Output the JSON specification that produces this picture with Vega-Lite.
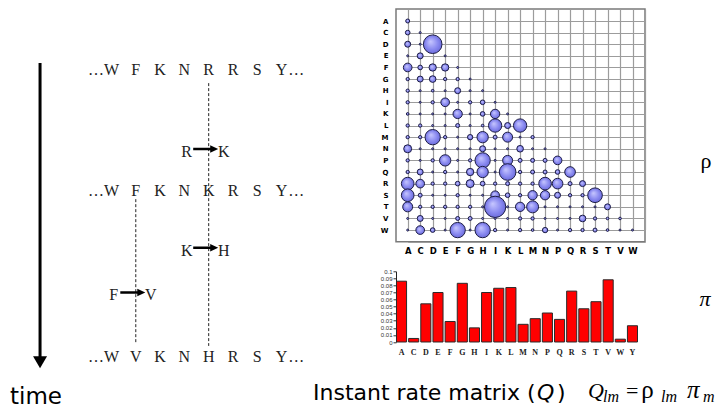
{
  "$schema": "https://vega.github.io/schema/vega-lite/v6.json",
  "padding": {"left": 0, "top": 8, "right": 0, "bottom": 0},
  "background": "white",
  "bounds": "flush",
  "spacing": 16,
  "config": {"view": {"stroke": null}},
  "hconcat": [
    {
      "width": 380,
      "height": 401,
      "layer": [
        {
          "data": {"values": [{"start": -0.17, "end": 7.12}]},
          "mark": {"type": "rule", "color": "black", "strokeWidth": 3},
          "encoding": {
            "x": {"datum": -2.94, "type": "quantitative", "scale": {"domain": [-4.588, 11.049], "nice": false, "zero": false}, "axis": null},
            "y": {"field": "start", "type": "quantitative", "scale": {"domain": [-1.488, 8.293], "nice": false, "zero": false, "reverse": true}, "axis": null},
            "y2": {"field": "end"}
          }
        },
        {
          "data": {"values": [{"start": -0.17, "end": 7.12}]},
          "mark": {"type": "point", "shape": "M -1 -0.8 L 1 -0.8 L 0 0.9 Z", "size": 196, "filled": true, "color": "black", "opacity": 1},
          "encoding": {
            "x": {"datum": -2.94, "type": "quantitative", "scale": {"domain": [-4.588, 11.049], "nice": false, "zero": false}, "axis": null},
            "y": {"field": "end", "type": "quantitative", "scale": {"domain": [-1.488, 8.293], "nice": false, "zero": false, "reverse": true}, "axis": null}
          }
        },
        {
          "data": {"values": [
            {"site": 4, "start": 0.32, "end": 6.73},
            {"site": 1, "start": 3.15, "end": 6.66}
          ]},
          "mark": {"type": "rule", "color": "#222", "strokeWidth": 1, "strokeDash": [3, 2]},
          "encoding": {
            "x": {"field": "site", "type": "quantitative", "scale": {"domain": [-4.588, 11.049], "nice": false, "zero": false}, "axis": null},
            "y": {"field": "start", "type": "quantitative", "scale": {"domain": [-1.488, 8.293], "nice": false, "zero": false, "reverse": true}, "axis": null},
            "y2": {"field": "end"}
          }
        },
        {
          "data": {"values": [
            {"t": 0, "col": -0.64, "aa": "…"}, {"t": 0, "col": 0, "aa": "W"}, {"t": 0, "col": 1, "aa": "F"}, {"t": 0, "col": 2, "aa": "K"}, {"t": 0, "col": 3, "aa": "N"}, {"t": 0, "col": 4, "aa": "R"}, {"t": 0, "col": 5, "aa": "R"}, {"t": 0, "col": 6, "aa": "S"}, {"t": 0, "col": 7, "aa": "Y"}, {"t": 0, "col": 7.6, "aa": "…"},
            {"t": 2.95, "col": -0.64, "aa": "…"}, {"t": 2.95, "col": 0, "aa": "W"}, {"t": 2.95, "col": 1, "aa": "F"}, {"t": 2.95, "col": 2, "aa": "K"}, {"t": 2.95, "col": 3, "aa": "N"}, {"t": 2.95, "col": 4, "aa": "K"}, {"t": 2.95, "col": 5, "aa": "R"}, {"t": 2.95, "col": 6, "aa": "S"}, {"t": 2.95, "col": 7, "aa": "Y"}, {"t": 2.95, "col": 7.6, "aa": "…"},
            {"t": 7, "col": -0.64, "aa": "…"}, {"t": 7, "col": 0, "aa": "W"}, {"t": 7, "col": 1, "aa": "V"}, {"t": 7, "col": 2, "aa": "K"}, {"t": 7, "col": 3, "aa": "N"}, {"t": 7, "col": 4, "aa": "H"}, {"t": 7, "col": 5, "aa": "R"}, {"t": 7, "col": 6, "aa": "S"}, {"t": 7, "col": 7, "aa": "Y"}, {"t": 7, "col": 7.6, "aa": "…"}
          ]},
          "mark": {"type": "text", "font": "Liberation Serif", "fontSize": 16, "color": "#222", "align": "center", "baseline": "middle"},
          "encoding": {
            "x": {"field": "col", "type": "quantitative", "scale": {"domain": [-4.588, 11.049], "nice": false, "zero": false}, "axis": null},
            "y": {"field": "t", "type": "quantitative", "scale": {"domain": [-1.488, 8.293], "nice": false, "zero": false, "reverse": true}, "axis": null},
            "text": {"field": "aa"}
          }
        },
        {
          "data": {"name": "mutations", "values": [
            {"site": 4, "t": 2, "from": "R", "to": "K"},
            {"site": 4, "t": 4.41, "from": "K", "to": "H"},
            {"site": 1, "t": 5.5, "from": "F", "to": "V"}
          ]},
          "layer": [
            {
              "mark": {"type": "text", "font": "Liberation Serif", "fontSize": 16, "color": "#222", "align": "center", "baseline": "middle", "dx": -22},
              "encoding": {
                "x": {"field": "site", "type": "quantitative", "scale": {"domain": [-4.588, 11.049], "nice": false, "zero": false}, "axis": null},
                "y": {"field": "t", "type": "quantitative", "scale": {"domain": [-1.488, 8.293], "nice": false, "zero": false, "reverse": true}, "axis": null},
                "text": {"field": "from"}
              }
            },
            {
              "mark": {"type": "text", "font": "Liberation Serif", "fontSize": 16, "color": "#222", "align": "center", "baseline": "middle", "dx": 15},
              "encoding": {
                "x": {"field": "site", "type": "quantitative", "scale": {"domain": [-4.588, 11.049], "nice": false, "zero": false}, "axis": null},
                "y": {"field": "t", "type": "quantitative", "scale": {"domain": [-1.488, 8.293], "nice": false, "zero": false, "reverse": true}, "axis": null},
                "text": {"field": "to"}
              }
            },
            {
              "mark": {"type": "point", "shape": "M -1 -0.1 L 0.36 -0.1 L 0.36 -0.3 L 1 0 L 0.36 0.3 L 0.36 0.1 L -1 0.1 Z", "size": 625, "filled": true, "color": "black", "opacity": 1, "xOffset": -3, "yOffset": -3},
              "encoding": {
                "x": {"field": "site", "type": "quantitative", "scale": {"domain": [-4.588, 11.049], "nice": false, "zero": false}, "axis": null},
                "y": {"field": "t", "type": "quantitative", "scale": {"domain": [-1.488, 8.293], "nice": false, "zero": false, "reverse": true}, "axis": null}
              }
            }
          ]
        },
        {
          "data": {"values": [{"label": "time"}]},
          "mark": {"type": "text", "font": "DejaVu Sans", "fontSize": 23, "color": "black", "align": "left", "baseline": "alphabetic"},
          "encoding": {
            "x": {"datum": -4.177, "type": "quantitative"},
            "y": {"datum": 8.146, "type": "quantitative"},
            "text": {"field": "label"}
          }
        },
        {
          "data": {"values": [{}]},
          "layer": [
            {
              "mark": {"type": "text", "font": "DejaVu Sans", "fontSize": 22, "color": "black", "align": "left", "baseline": "alphabetic"},
              "encoding": {"x": {"datum": 8.292, "type": "quantitative"}, "y": {"datum": 8.05, "type": "quantitative"}, "text": {"value": "Instant rate matrix ("}}
            },
            {
              "mark": {"type": "text", "font": "DejaVu Sans", "fontStyle": "italic", "fontSize": 22, "color": "black", "align": "left", "baseline": "alphabetic"},
              "encoding": {"x": {"datum": 17.51, "type": "quantitative"}, "y": {"datum": 8.05, "type": "quantitative"}, "text": {"value": "Q"}}
            },
            {
              "mark": {"type": "text", "font": "DejaVu Sans", "fontSize": 22, "color": "black", "align": "left", "baseline": "alphabetic"},
              "encoding": {"x": {"datum": 18.33, "type": "quantitative"}, "y": {"datum": 8.05, "type": "quantitative"}, "text": {"value": ")"}}
            },
            {
              "mark": {"type": "text", "font": "Liberation Serif", "fontStyle": "italic", "fontSize": 22, "color": "black", "align": "left", "baseline": "alphabetic"},
              "encoding": {"x": {"datum": 19.61, "type": "quantitative"}, "y": {"datum": 8.0, "type": "quantitative"}, "text": {"value": "Q"}}
            },
            {
              "mark": {"type": "text", "font": "Liberation Serif", "fontStyle": "italic", "fontSize": 16, "color": "black", "align": "left", "baseline": "alphabetic"},
              "encoding": {"x": {"datum": 20.23, "type": "quantitative"}, "y": {"datum": 8.1, "type": "quantitative"}, "text": {"value": "lm"}}
            },
            {
              "mark": {"type": "text", "font": "Liberation Serif", "fontSize": 22, "color": "black", "align": "left", "baseline": "alphabetic"},
              "encoding": {"x": {"datum": 21.17, "type": "quantitative"}, "y": {"datum": 8.0, "type": "quantitative"}, "text": {"value": "="}}
            },
            {
              "mark": {"type": "text", "font": "Liberation Serif", "fontSize": 25, "color": "black", "align": "left", "baseline": "alphabetic"},
              "encoding": {"x": {"datum": 21.8, "type": "quantitative"}, "y": {"datum": 8.0, "type": "quantitative"}, "text": {"value": "ρ"}}
            },
            {
              "mark": {"type": "text", "font": "Liberation Serif", "fontStyle": "italic", "fontSize": 16, "color": "black", "align": "left", "baseline": "alphabetic"},
              "encoding": {"x": {"datum": 22.61, "type": "quantitative"}, "y": {"datum": 8.1, "type": "quantitative"}, "text": {"value": "lm"}}
            },
            {
              "mark": {"type": "text", "font": "Liberation Serif", "fontStyle": "italic", "fontSize": 25, "color": "black", "align": "left", "baseline": "alphabetic"},
              "encoding": {"x": {"datum": 23.68, "type": "quantitative"}, "y": {"datum": 8.0, "type": "quantitative"}, "text": {"value": "π"}}
            },
            {
              "mark": {"type": "text", "font": "Liberation Serif", "fontStyle": "italic", "fontSize": 16, "color": "black", "align": "left", "baseline": "alphabetic"},
              "encoding": {"x": {"datum": 24.34, "type": "quantitative"}, "y": {"datum": 8.1, "type": "quantitative"}, "text": {"value": "m"}}
            }
          ]
        }
      ]
    },
    {
      "bounds": "flush",
      "spacing": 29.3,
      "vconcat": [
        {
          "width": 249,
          "height": 232.7,
          "view": {"stroke": "#7a7a7a", "strokeWidth": 1.5},
          "title": {"text": "ρ", "orient": "right", "angle": 0, "anchor": "middle", "align": "center", "baseline": "middle", "offset": 50, "dy": 36, "font": "Liberation Serif", "fontSize": 22, "fontWeight": "normal", "color": "black"},
          "data": {"values": [
            {"row": "A", "col": "A", "rho": 0.36},
            {"row": "C", "col": "A", "rho": 0.49}, {"row": "C", "col": "C", "rho": 0.09},
            {"row": "D", "col": "A", "rho": 0.81}, {"row": "D", "col": "C", "rho": 0.09}, {"row": "D", "col": "D", "rho": 7.84},
            {"row": "E", "col": "A", "rho": 0.09}, {"row": "E", "col": "C", "rho": 0.81}, {"row": "E", "col": "E", "rho": 0.09},
            {"row": "F", "col": "A", "rho": 1.69}, {"row": "F", "col": "C", "rho": 0.49}, {"row": "F", "col": "D", "rho": 1.21}, {"row": "F", "col": "E", "rho": 1.21}, {"row": "F", "col": "F", "rho": 0.09},
            {"row": "G", "col": "A", "rho": 0.25}, {"row": "G", "col": "C", "rho": 0.81}, {"row": "G", "col": "D", "rho": 1.0}, {"row": "G", "col": "E", "rho": 0.25}, {"row": "G", "col": "F", "rho": 0.25}, {"row": "G", "col": "G", "rho": 0.09},
            {"row": "H", "col": "A", "rho": 0.25}, {"row": "H", "col": "C", "rho": 0.09}, {"row": "H", "col": "D", "rho": 0.16}, {"row": "H", "col": "E", "rho": 0.09}, {"row": "H", "col": "F", "rho": 0.81}, {"row": "H", "col": "G", "rho": 0.09}, {"row": "H", "col": "H", "rho": 0.09},
            {"row": "I", "col": "A", "rho": 0.25}, {"row": "I", "col": "C", "rho": 0.09}, {"row": "I", "col": "D", "rho": 0.25}, {"row": "I", "col": "E", "rho": 1.69}, {"row": "I", "col": "F", "rho": 0.09}, {"row": "I", "col": "G", "rho": 0.25}, {"row": "I", "col": "H", "rho": 0.49}, {"row": "I", "col": "I", "rho": 0.09},
            {"row": "K", "col": "A", "rho": 0.16}, {"row": "K", "col": "C", "rho": 0.09}, {"row": "K", "col": "D", "rho": 0.09}, {"row": "K", "col": "E", "rho": 0.09}, {"row": "K", "col": "F", "rho": 1.96}, {"row": "K", "col": "G", "rho": 0.09}, {"row": "K", "col": "H", "rho": 0.49}, {"row": "K", "col": "I", "rho": 1.96}, {"row": "K", "col": "K", "rho": 0.09},
            {"row": "L", "col": "A", "rho": 0.25}, {"row": "L", "col": "C", "rho": 0.25}, {"row": "L", "col": "D", "rho": 0.09}, {"row": "L", "col": "E", "rho": 0.09}, {"row": "L", "col": "F", "rho": 0.36}, {"row": "L", "col": "G", "rho": 0.09}, {"row": "L", "col": "H", "rho": 0.16}, {"row": "L", "col": "I", "rho": 4.0}, {"row": "L", "col": "K", "rho": 0.81}, {"row": "L", "col": "L", "rho": 4.0},
            {"row": "M", "col": "A", "rho": 0.25}, {"row": "M", "col": "C", "rho": 0.25}, {"row": "M", "col": "D", "rho": 5.29}, {"row": "M", "col": "E", "rho": 0.25}, {"row": "M", "col": "F", "rho": 0.09}, {"row": "M", "col": "G", "rho": 0.64}, {"row": "M", "col": "H", "rho": 2.89}, {"row": "M", "col": "I", "rho": 0.36}, {"row": "M", "col": "K", "rho": 2.25}, {"row": "M", "col": "L", "rho": 0.09}, {"row": "M", "col": "M", "rho": 0.25},
            {"row": "N", "col": "A", "rho": 1.44}, {"row": "N", "col": "C", "rho": 0.09}, {"row": "N", "col": "D", "rho": 0.09}, {"row": "N", "col": "E", "rho": 0.09}, {"row": "N", "col": "F", "rho": 0.09}, {"row": "N", "col": "G", "rho": 0.09}, {"row": "N", "col": "H", "rho": 0.81}, {"row": "N", "col": "I", "rho": 0.09}, {"row": "N", "col": "K", "rho": 0.09}, {"row": "N", "col": "L", "rho": 1.0}, {"row": "N", "col": "M", "rho": 0.09}, {"row": "N", "col": "N", "rho": 0.09},
            {"row": "P", "col": "A", "rho": 0.25}, {"row": "P", "col": "C", "rho": 0.09}, {"row": "P", "col": "D", "rho": 0.25}, {"row": "P", "col": "E", "rho": 2.89}, {"row": "P", "col": "F", "rho": 0.09}, {"row": "P", "col": "G", "rho": 0.25}, {"row": "P", "col": "H", "rho": 5.29}, {"row": "P", "col": "I", "rho": 0.09}, {"row": "P", "col": "K", "rho": 2.25}, {"row": "P", "col": "L", "rho": 0.36}, {"row": "P", "col": "M", "rho": 0.36}, {"row": "P", "col": "N", "rho": 0.36}, {"row": "P", "col": "P", "rho": 1.69},
            {"row": "Q", "col": "A", "rho": 0.25}, {"row": "Q", "col": "C", "rho": 0.81}, {"row": "Q", "col": "D", "rho": 0.09}, {"row": "Q", "col": "E", "rho": 0.25}, {"row": "Q", "col": "F", "rho": 0.09}, {"row": "Q", "col": "G", "rho": 1.21}, {"row": "Q", "col": "H", "rho": 2.89}, {"row": "Q", "col": "I", "rho": 0.09}, {"row": "Q", "col": "K", "rho": 6.25}, {"row": "Q", "col": "L", "rho": 0.25}, {"row": "Q", "col": "M", "rho": 0.36}, {"row": "Q", "col": "N", "rho": 0.36}, {"row": "Q", "col": "P", "rho": 0.49}, {"row": "Q", "col": "Q", "rho": 2.56},
            {"row": "R", "col": "A", "rho": 3.61}, {"row": "R", "col": "C", "rho": 1.69}, {"row": "R", "col": "D", "rho": 0.25}, {"row": "R", "col": "E", "rho": 0.25}, {"row": "R", "col": "F", "rho": 0.49}, {"row": "R", "col": "G", "rho": 1.44}, {"row": "R", "col": "H", "rho": 0.49}, {"row": "R", "col": "I", "rho": 0.25}, {"row": "R", "col": "K", "rho": 0.36}, {"row": "R", "col": "L", "rho": 0.25}, {"row": "R", "col": "M", "rho": 0.25}, {"row": "R", "col": "N", "rho": 3.61}, {"row": "R", "col": "P", "rho": 2.56}, {"row": "R", "col": "Q", "rho": 0.36}, {"row": "R", "col": "R", "rho": 0.81},
            {"row": "S", "col": "A", "rho": 3.61}, {"row": "S", "col": "C", "rho": 0.36}, {"row": "S", "col": "D", "rho": 0.09}, {"row": "S", "col": "E", "rho": 0.09}, {"row": "S", "col": "F", "rho": 0.25}, {"row": "S", "col": "G", "rho": 0.09}, {"row": "S", "col": "H", "rho": 0.09}, {"row": "S", "col": "I", "rho": 1.69}, {"row": "S", "col": "K", "rho": 0.49}, {"row": "S", "col": "L", "rho": 0.25}, {"row": "S", "col": "M", "rho": 1.96}, {"row": "S", "col": "N", "rho": 1.96}, {"row": "S", "col": "P", "rho": 0.81}, {"row": "S", "col": "Q", "rho": 0.25}, {"row": "S", "col": "R", "rho": 0.25}, {"row": "S", "col": "S", "rho": 4.84},
            {"row": "T", "col": "A", "rho": 2.25}, {"row": "T", "col": "C", "rho": 0.25}, {"row": "T", "col": "D", "rho": 0.25}, {"row": "T", "col": "E", "rho": 0.25}, {"row": "T", "col": "F", "rho": 0.25}, {"row": "T", "col": "G", "rho": 0.25}, {"row": "T", "col": "H", "rho": 0.09}, {"row": "T", "col": "I", "rho": 10.24}, {"row": "T", "col": "K", "rho": 0.09}, {"row": "T", "col": "L", "rho": 1.96}, {"row": "T", "col": "M", "rho": 3.24}, {"row": "T", "col": "N", "rho": 0.09}, {"row": "T", "col": "P", "rho": 0.09}, {"row": "T", "col": "Q", "rho": 0.09}, {"row": "T", "col": "R", "rho": 0.09}, {"row": "T", "col": "S", "rho": 0.09}, {"row": "T", "col": "T", "rho": 0.81},
            {"row": "V", "col": "A", "rho": 0.09}, {"row": "V", "col": "C", "rho": 0.81}, {"row": "V", "col": "D", "rho": 0.09}, {"row": "V", "col": "E", "rho": 0.09}, {"row": "V", "col": "F", "rho": 0.36}, {"row": "V", "col": "G", "rho": 0.36}, {"row": "V", "col": "H", "rho": 0.09}, {"row": "V", "col": "I", "rho": 0.09}, {"row": "V", "col": "K", "rho": 0.09}, {"row": "V", "col": "L", "rho": 0.25}, {"row": "V", "col": "M", "rho": 0.25}, {"row": "V", "col": "N", "rho": 0.09}, {"row": "V", "col": "P", "rho": 0.09}, {"row": "V", "col": "Q", "rho": 0.09}, {"row": "V", "col": "R", "rho": 1.0}, {"row": "V", "col": "S", "rho": 0.25}, {"row": "V", "col": "T", "rho": 0.16}, {"row": "V", "col": "V", "rho": 0.16},
            {"row": "W", "col": "A", "rho": 0.09}, {"row": "W", "col": "C", "rho": 1.69}, {"row": "W", "col": "D", "rho": 0.49}, {"row": "W", "col": "E", "rho": 0.09}, {"row": "W", "col": "F", "rho": 5.29}, {"row": "W", "col": "G", "rho": 0.09}, {"row": "W", "col": "H", "rho": 5.29}, {"row": "W", "col": "I", "rho": 0.25}, {"row": "W", "col": "K", "rho": 0.09}, {"row": "W", "col": "L", "rho": 0.25}, {"row": "W", "col": "M", "rho": 0.16}, {"row": "W", "col": "N", "rho": 0.64}, {"row": "W", "col": "P", "rho": 0.09}, {"row": "W", "col": "Q", "rho": 0.25}, {"row": "W", "col": "R", "rho": 0.25}, {"row": "W", "col": "S", "rho": 0.36}, {"row": "W", "col": "T", "rho": 0.16}, {"row": "W", "col": "V", "rho": 0.09}, {"row": "W", "col": "W", "rho": 0.09}
          ]},
          "mark": {
            "type": "circle",
            "opacity": 1,
            "stroke": "#1e1e46",
            "strokeWidth": 1,
            "fill": {"gradient": "radial", "x1": 0.38, "y1": 0.35, "r1": 0, "x2": 0.5, "y2": 0.5, "r2": 0.55,
                     "stops": [{"offset": 0, "color": "#c8c8ff"}, {"offset": 0.6, "color": "#8a8af0"}, {"offset": 1, "color": "#6666d8"}]}
          },
          "encoding": {
            "x": {
              "field": "col", "type": "nominal",
              "scale": {"type": "point", "domain": ["A","C","D","E","F","G","H","I","K","L","M","N","P","Q","R","S","T","V","W","Y"], "range": [11.7, 249], "padding": 0},
              "axis": {"title": null, "orient": "bottom", "labelAngle": 0, "ticks": false, "tickSize": 0, "domain": false, "labelPadding": 5,
                       "labelFont": "DejaVu Sans", "labelFontWeight": "bold", "labelFontSize": 8.5, "labelColor": "black",
                       "labelExpr": "datum.value == 'Y' ? '' : datum.value",
                       "grid": true, "gridColor": "#9c9c9c", "gridWidth": 1.2}
            },
            "y": {
              "field": "row", "type": "nominal",
              "scale": {"type": "point", "domain": ["A","C","D","E","F","G","H","I","K","L","M","N","P","Q","R","S","T","V","W","Y"], "range": [12, 232.7], "padding": 0},
              "axis": {"title": null, "orient": "left", "ticks": false, "tickSize": 0, "domain": false, "labelPadding": 8,
                       "labelFont": "DejaVu Sans", "labelFontWeight": "bold", "labelFontSize": 7, "labelColor": "black",
                       "labelExpr": "datum.value == 'Y' ? '' : datum.value",
                       "grid": true, "gridColor": "#9c9c9c", "gridWidth": 1.2}
            },
            "size": {"field": "rho", "type": "quantitative", "scale": {"domain": [0, 10], "range": [0, 444], "zero": true}, "legend": null}
          }
        },
        {
          "width": 242,
          "height": 70.7,
          "title": {"text": "π", "orient": "right", "angle": 0, "anchor": "middle", "align": "center", "baseline": "middle", "offset": 56, "dy": -8, "font": "Liberation Serif", "fontStyle": "italic", "fontSize": 22, "fontWeight": "normal", "color": "black"},
          "data": {"values": [
            {"aa": "A", "pi": 0.086}, {"aa": "C", "pi": 0.005}, {"aa": "D", "pi": 0.054}, {"aa": "E", "pi": 0.070},
            {"aa": "F", "pi": 0.029}, {"aa": "G", "pi": 0.083}, {"aa": "H", "pi": 0.020}, {"aa": "I", "pi": 0.070},
            {"aa": "K", "pi": 0.076}, {"aa": "L", "pi": 0.077}, {"aa": "M", "pi": 0.025}, {"aa": "N", "pi": 0.033},
            {"aa": "P", "pi": 0.041}, {"aa": "Q", "pi": 0.032}, {"aa": "R", "pi": 0.072}, {"aa": "S", "pi": 0.047},
            {"aa": "T", "pi": 0.057}, {"aa": "V", "pi": 0.088}, {"aa": "W", "pi": 0.004}, {"aa": "Y", "pi": 0.023}
          ]},
          "mark": {"type": "bar", "color": "#ff0000", "stroke": "#2a2a2a", "strokeWidth": 1},
          "encoding": {
            "x": {
              "field": "aa", "type": "nominal", "sort": null,
              "scale": {"paddingInner": 0.17, "paddingOuter": 0.04},
              "axis": {"title": null, "labelAngle": 0, "ticks": false, "domain": false, "labelPadding": 6,
                       "labelFont": "Liberation Serif", "labelFontWeight": "bold", "labelFontSize": 8, "labelColor": "#222"}
            },
            "y": {
              "field": "pi", "type": "quantitative",
              "scale": {"domain": [0, 0.1], "nice": false},
              "axis": {"title": null, "grid": false, "values": [0, 0.01, 0.02, 0.03, 0.04, 0.05, 0.06, 0.07, 0.08, 0.09, 0.1],
                       "format": "~g", "labelFont": "Liberation Sans", "labelFontSize": 6, "labelColor": "#333",
                       "tickSize": 3, "tickColor": "#333", "domainColor": "#222", "labelPadding": 1}
            }
          }
        }
      ]
    }
  ]
}
